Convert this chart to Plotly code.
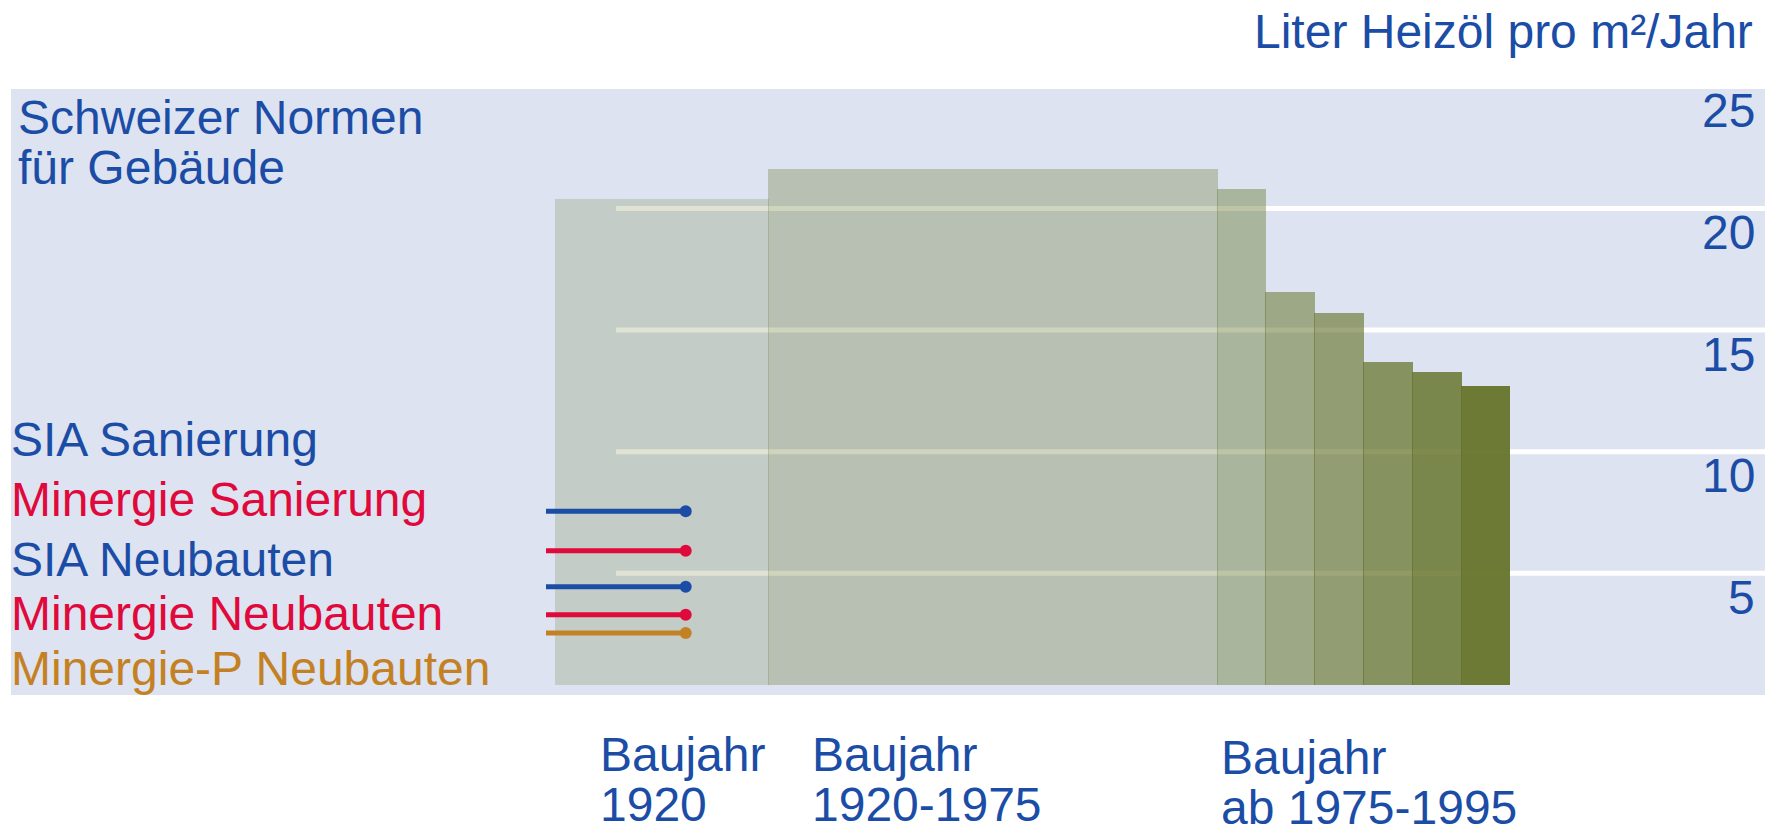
import plotly.graph_objects as go

# ---------------- data ----------------
# bar boundaries along the horizontal scale (arbitrary units, one unit = one pixel of the plot width)
bar_edges = [544, 757, 1205.5, 1254, 1303, 1351.6, 1401, 1450, 1499]
bar_values = [20.38, 21.64, 20.78, 16.55, 15.70, 13.70, 13.29, 12.71]
bar_base = 0.42
bar_alpha = [0.20, 0.31, 0.42, 0.53, 0.63, 0.73, 0.83, 0.95]

norm_names = ["SIA Sanierung", "Minergie Sanierung", "SIA Neubauten",
              "Minergie Neubauten", "Minergie-P Neubauten"]
norm_values = [7.55, 5.93, 4.45, 3.30, 2.55]
norm_line_x = [535, 674.7]

grid_values = [5, 10, 15, 20]
tick_values = [25, 20, 15, 10, 5]

group_labels = [("Baujahr", "1920"), ("Baujahr", "1920-1975"), ("Baujahr", "ab 1975-1995")]

title_text = "Liter Heizöl pro m²/Jahr"
subtitle_lines = ["Schweizer Normen", "für Gebäude"]

# ---------------- style ----------------
W, H = 1776, 827
OFF = 8  # default page margin of the html body
ML, MR, MT, MB = 3, 19, 81, 140
PW = W - ML - MR
PH = H - MT - MB
PX_PER_UNIT = 24.33
YMAX = PH / PX_PER_UNIT
FONT = "Liberation Sans, Arial, Helvetica, sans-serif"
BLUE = "#1b4da6"
RED = "#e0093b"
ORANGE = "#c38124"
OLIVE = (101, 116, 42)
BG = "#dde3f0"
norm_colors = [BLUE, RED, BLUE, RED, ORANGE]
FS = 48
OVERLAP = 1.0


def px2paper(xp, yp):
    """screen pixel position -> paper coordinates"""
    xf, yf = xp - OFF, yp - OFF
    return (xf - ML) / PW, (H - MB - yf) / PH


fig = go.Figure()

# bars (each overlaps its right neighbour by a hair, giving the thin seams)
lefts = bar_edges[:-1]
rights = bar_edges[1:]
for i, (a, b, v, al) in enumerate(zip(lefts, rights, bar_values, bar_alpha)):
    r = b + (OVERLAP if i < len(bar_values) - 1 else 0)
    fig.add_trace(go.Bar(
        x=[(a + r) / 2], y=[v - bar_base], base=[bar_base], width=[r - a],
        marker=dict(color="rgba(%d,%d,%d,%.3f)" % (OLIVE + (al,)), line=dict(width=0)),
        hoverinfo="skip", showlegend=False))

# norm lines
for name, val, col in zip(norm_names, norm_values, norm_colors):
    fig.add_trace(go.Scatter(
        x=norm_line_x, y=[val, val], mode="lines",
        line=dict(color=col, width=5),
        name=name, showlegend=False, hoverinfo="skip"))
    fig.add_trace(go.Scatter(
        x=norm_line_x[-1:], y=[val], mode="markers",
        marker=dict(size=12, color=col, line=dict(width=0)),
        name=name, showlegend=False, hoverinfo="skip"))

# grid lines (below bars)
shapes = []
for g in grid_values:
    shapes.append(dict(type="line", xref="x", yref="y", x0=605, x1=PW, y0=g, y1=g,
                       line=dict(color="white", width=5), layer="below"))

annotations = []
# tick labels on the right
for t in tick_values:
    annotations.append(dict(text=str(t), xref="paper", yref="paper", x=1, y=t / YMAX,
                            xanchor="right", yanchor="middle", xshift=-8, yshift=-24,
                            showarrow=False, font=dict(family=FONT, size=48, color=BLUE)))

# title
x, y = px2paper(1755, 32)
annotations.append(dict(text=title_text, xref="paper", yref="paper", x=x, y=y,
                        xanchor="right", yanchor="middle", showarrow=False,
                        font=dict(family=FONT, size=48, color=BLUE)))

# subtitle
for i, line in enumerate(subtitle_lines):
    x, y = px2paper(16, 118 + 49 * i)
    annotations.append(dict(text=line, xref="paper", yref="paper", x=x, y=y,
                            xanchor="left", yanchor="middle", showarrow=False,
                            font=dict(family=FONT, size=FS, color=BLUE)))

# legend-like labels on the left
label_y = [439, 500, 559, 613, 668]
for name, ly, col in zip(norm_names, label_y, norm_colors):
    x, y = px2paper(9, ly)
    annotations.append(dict(text=name, xref="paper", yref="paper", x=x, y=y,
                            xanchor="left", yanchor="middle", showarrow=False,
                            font=dict(family=FONT, size=FS, color=col)))

# group labels below
group_x = [598, 810, 1219]
group_y = [(754, 804), (754, 804), (757, 807)]
for (l1, l2), gx, (y1, y2) in zip(group_labels, group_x, group_y):
    for txt, yy in ((l1, y1), (l2, y2)):
        x, y = px2paper(gx, yy)
        annotations.append(dict(text=txt, xref="paper", yref="paper", x=x, y=y,
                                xanchor="left", yanchor="middle", showarrow=False,
                                font=dict(family=FONT, size=FS, color=BLUE)))

fig.update_layout(
    width=W, height=H,
    margin=dict(l=ML, r=MR, t=MT, b=MB, pad=0),
    paper_bgcolor="white", plot_bgcolor=BG,
    xaxis=dict(range=[0, PW], visible=False, fixedrange=True),
    yaxis=dict(range=[0, YMAX], visible=False, fixedrange=True),
    barmode="overlay", bargap=0,
    shapes=shapes, annotations=annotations,
    showlegend=False,
)

fig.write_html("out.html")
